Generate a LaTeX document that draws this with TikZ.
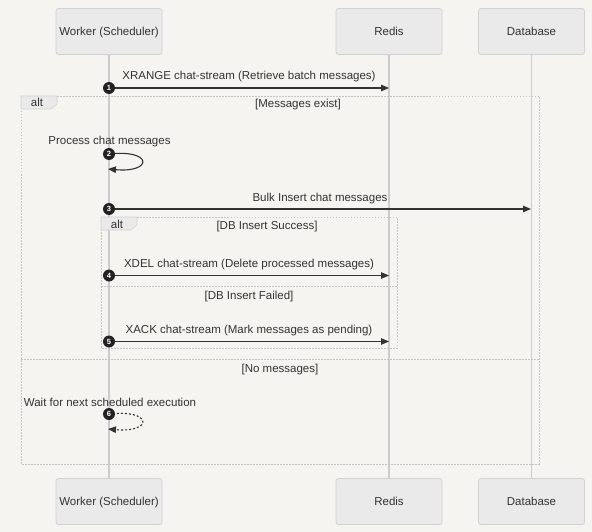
\documentclass[tikz,border=0pt]{standalone}
\usepackage{fontspec}
\setmainfont{Liberation Sans}
\usetikzlibrary{arrows.meta}
\definecolor{bg}{HTML}{F5F4F0}
\definecolor{boxfill}{HTML}{EAEAEA}
\definecolor{boxline}{HTML}{D2D2D2}
\definecolor{life}{HTML}{CCCCCC}
\definecolor{ink}{HTML}{333333}
\definecolor{frameline}{HTML}{C4C4C4}
\definecolor{badge}{HTML}{222222}
\tikzset{
  actor/.style={draw=boxline, fill=boxfill, rounded corners=2.5pt, minimum width=106pt, minimum height=46pt, line width=0.8pt, text=ink, font=\fontsize{11.5}{13}\selectfont, inner sep=0pt, text height=8.2pt, text depth=0pt},
  lifeline/.style={draw=life, line width=1.5pt},
  msg/.style={draw=ink, line width=1.1pt, -{Triangle[length=8pt,width=6.5pt]}},
  dmsg/.style={draw=ink, line width=1.1pt, dash pattern=on 2pt off 2pt, -{Triangle[length=8pt,width=6.5pt]}},
  lbl/.style={text=ink, font=\fontsize{11.5}{13}\selectfont, inner sep=0pt, anchor=base},
  badgestyle/.style={circle, fill=badge, text=white, inner sep=0pt, minimum size=12pt, font=\fontsize{7.5}{7.5}\bfseries\selectfont},
  framebox/.style={draw=frameline, line width=0.8pt, dash pattern=on 1.5pt off 1.5pt},
  tabstyle/.style={draw=boxline, fill=boxfill, line width=0.6pt},
}
\begin{document}
\begin{tikzpicture}[x=1pt,y=-1pt]
\fill[bg] (0,0) rectangle (592,532);
\useasboundingbox (0,0) rectangle (592,532);

% actors
\node[actor] (wt) at (109,31.5) {Worker (Scheduler)};
\node[actor] (rt) at (389,31.5) {Redis};
\node[actor] (dt) at (531.5,31.5) {Database};
\node[actor] (wb) at (109,501.5) {Worker (Scheduler)};
\node[actor] (rb) at (389,501.5) {Redis};
\node[actor] (db) at (531.5,501.5) {Database};

% lifelines
\draw[lifeline] (wt.south) -- (wb.north);
\draw[lifeline] (rt.south) -- (rb.north);
\draw[lifeline] (dt.south) -- (db.north);

% outer alt frame
\draw[framebox] (21,96) rectangle (539,464);
\draw[framebox] (21,359) -- (539,359);
\draw[tabstyle] (21,96) -- (57,96) -- (57,104) -- (51,109) -- (21,109) -- cycle;
\node[lbl] (alt1) at (37,107) {alt};
\node[lbl] (g1) at (298,107.5) {[Messages exist]};
\node[lbl] (g2) at (280,372.5) {[No messages]};

% inner alt frame
\draw[framebox] (101,217) rectangle (397,348);
\draw[framebox] (101,286) -- (397,286);
\draw[tabstyle] (101,217) -- (137,217) -- (137,225) -- (131,230) -- (101,230) -- cycle;
\node[lbl] (alt2) at (117,228) {alt};
\node[lbl] (g3) at (267,229.5) {[DB Insert Success]};
\node[lbl] (g4) at (249,299.5) {[DB Insert Failed]};

% message endpoints
\coordinate (w1) at (109,88);  \coordinate (r1) at (389,88);
\coordinate (w2) at (109,154); \coordinate (w2e) at (108,169);
\coordinate (w3) at (109,209); \coordinate (d3) at (531,209);
\coordinate (w4) at (109,275.5); \coordinate (r4) at (389,275.5);
\coordinate (w5) at (109,341.5); \coordinate (r5) at (389,341.5);
\coordinate (w6) at (109,414); \coordinate (w6e) at (108,429);

% message 1
\node[lbl] (m1) at (249,79.5) {XRANGE chat-stream (Retrieve batch messages)};
\draw[msg] (w1) -- (r1);
\node[badgestyle] (b1) at (w1) {1};

% message 2
\node[lbl] (m2) at (109.5,145) {Process chat messages};
\draw[msg] (w2) .. controls (153,149) and (153,173) .. (w2e);
\node[badgestyle] (b2) at (w2) {2};

% message 3
\node[lbl] (m3) at (320,201) {Bulk Insert chat messages};
\draw[msg] (w3) -- (d3);
\node[badgestyle] (b3) at (w3) {3};

% message 4
\node[lbl] (m4) at (249,267) {XDEL chat-stream (Delete processed messages)};
\draw[msg] (w4) -- (r4);
\node[badgestyle] (b4) at (w4) {4};

% message 5
\node[lbl] (m5) at (249,333) {XACK chat-stream (Mark messages as pending)};
\draw[msg] (w5) -- (r5);
\node[badgestyle] (b5) at (w5) {5};

% message 6
\node[lbl] (m6) at (110,406) {Wait for next scheduled execution};
\draw[dmsg] (w6) .. controls (153,409) and (153,433) .. (w6e);
\node[badgestyle] (b6) at (w6) {6};
\end{tikzpicture}
\end{document}
